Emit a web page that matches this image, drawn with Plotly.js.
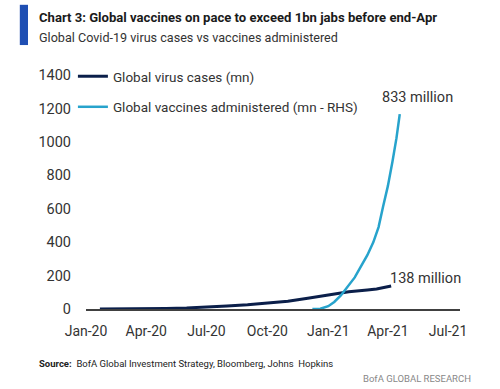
<!DOCTYPE html>
<html>
<head>
<meta charset="utf-8">
<script src="https://cdn.plot.ly/plotly-3.0.1.min.js"></script>
<style>html,body{margin:0;padding:0;background:#fff;}#chart{width:500px;height:389px;}</style>
</head>
<body>
<div id="chart"></div>
<script>
// Global virus cases (mn)
const caseDates = ['2020-01-22','2020-02-01','2020-03-01','2020-04-01','2020-05-01','2020-06-01','2020-07-01','2020-08-01','2020-09-01','2020-10-01','2020-11-01','2020-12-01','2021-01-01','2021-02-01','2021-03-01','2021-03-15','2021-04-06'];
const caseValues = [0, 0.01, 0.09, 0.9, 3.3, 6.2, 10.5, 17.6, 25.5, 34, 46.5, 64, 84, 103, 114, 120, 138];
// Global vaccines administered (mn, RHS)
const vacDates = ['2020-12-08','2020-12-20','2021-01-01','2021-01-10','2021-01-20','2021-02-01','2021-02-10','2021-02-20','2021-03-01','2021-03-10','2021-03-18','2021-03-25','2021-04-01','2021-04-08','2021-04-14','2021-04-19'];
const vacValues = [0, 1, 12, 30, 58, 100, 135, 185, 230, 285, 350, 440, 525, 630, 730, 833];
const yTicks = [0, 200, 400, 600, 800, 1000, 1200, 1400];

const FONT = 'Roboto, "Liberation Sans", Arial, sans-serif';
const TXT = '#333333';

const traces = [
  {x: caseDates, y: caseValues, type: 'scatter', mode: 'lines', name: 'Global virus cases (mn)',
   line: {color: '#0b1f4a', width: 3}, yaxis: 'y', legendgroup: 'a'},
  {x: vacDates, y: vacValues, type: 'scatter', mode: 'lines', name: 'Global vaccines administered (mn - RHS)',
   line: {color: '#27a3cc', width: 2.5}, yaxis: 'y2', legendgroup: 'b'}
];

const layout = {
  width: 500, height: 389,
  margin: {l: 86, r: 40, t: 75, b: 80},
  paper_bgcolor: '#ffffff', plot_bgcolor: '#ffffff',
  font: {family: FONT, color: TXT, size: 14},
  showlegend: true,
  legend: {x: -0.035, y: 1.06, xanchor: 'left', yanchor: 'top', bgcolor: 'rgba(0,0,0,0)',
           font: {family: FONT, size: 13.5, color: TXT}, traceorder: 'grouped', tracegroupgap: 10},
  xaxis: {type: 'date', range: ['2020-01-01', '2021-07-19'], tick0: '2020-01-01', dtick: 'M3',
          tickformat: '%b-%y', showgrid: false, zeroline: false, showline: true, linecolor: '#404040', linewidth: 1.5,
          ticks: '', ticklabelstandoff: 9, tickfont: {family: FONT, size: 14, color: TXT}},
  yaxis: {range: [0, 1400], tickvals: yTicks, ticktext: yTicks.map(String), showgrid: false, zeroline: false,
          showline: false, ticks: '', ticklabelstandoff: 14, tickfont: {family: FONT, size: 14.5, color: TXT}},
  yaxis2: {range: [0, 1000], overlaying: 'y', side: 'right', visible: false, showgrid: false, zeroline: false},
  annotations: [
    {xref: 'paper', yref: 'paper', x: -0.131, y: 1.2436, xanchor: 'left', yanchor: 'middle', showarrow: false,
     text: '<b>Chart 3: Global vaccines on pace to exceed 1bn jabs before end-Apr</b>', font: {family: FONT, size: 13.1, color: '#1a1a1a'}},
    {xref: 'paper', yref: 'paper', x: -0.131, y: 1.162, xanchor: 'left', yanchor: 'middle', showarrow: false,
     text: 'Global Covid-19 virus cases vs vaccines administered', font: {family: FONT, size: 12.6, color: '#333'}},
    {xref: 'x', yref: 'y2', x: vacDates[vacDates.length - 1], y: vacValues[vacValues.length - 1], xanchor: 'center', yanchor: 'bottom',
     xshift: 18, yshift: 6, showarrow: false, text: vacValues[vacValues.length - 1] + ' million', font: {family: FONT, size: 14.5, color: TXT}},
    {xref: 'x', yref: 'y', x: caseDates[caseDates.length - 1], y: caseValues[caseValues.length - 1], xanchor: 'left', yanchor: 'bottom',
     xshift: -3, yshift: -3, showarrow: false, text: caseValues[caseValues.length - 1] + ' million', font: {family: FONT, size: 14.5, color: TXT}},
    {xref: 'paper', yref: 'paper', x: -0.131, y: -0.231, xanchor: 'left', yanchor: 'middle', showarrow: false,
     text: '<b>Source:</b>  BofA Global Investment Strategy, Bloomberg, Johns  Hopkins', font: {family: FONT, size: 9.5, color: '#222'}},
    {xref: 'paper', yref: 'paper', x: 1.035, y: -0.295, xanchor: 'right', yanchor: 'middle', showarrow: false,
     text: 'BofA GLOBAL RESEARCH', font: {family: FONT, size: 9.5, color: '#888'}}
  ],
  shapes: [
    {type: 'rect', xref: 'paper', yref: 'paper', x0: -0.177, x1: -0.155, y0: 1.128, y1: 1.30,
     fillcolor: '#1f4fb3', line: {width: 0}}
  ]
};

Plotly.newPlot('chart', traces, layout, {displayModeBar: false, staticPlot: true});
</script>
</body>
</html>
